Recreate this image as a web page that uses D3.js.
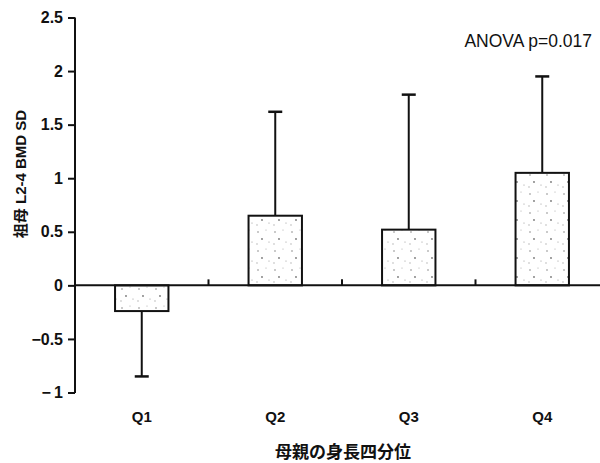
<!DOCTYPE html>
<html><head><meta charset="utf-8">
<script src="https://cdn.jsdelivr.net/npm/d3@7/dist/d3.min.js"></script>
<style>body{margin:0;background:#fff}svg{display:block}</style>
</head><body>
<svg id="c" width="600" height="463"></svg>
<script>
const categories = ["Q1","Q2","Q3","Q4"];
const means = [-0.24, 0.65, 0.52, 1.05];
const sds = [0.61, 0.97, 1.26, 0.90];
const errDir = [-1, 1, 1, 1];
const yTicks = [-1,-0.5,0,0.5,1,1.5,2,2.5];
const yTickLabels = ["\u2212\u20091","\u22120.5","0","0.5","1","1.5","2","2.5"];
const yTitle = "祖母 L2-4 BMD SD";
const xTitle = "母親の身長四分位";
const note = "ANOVA p=0.017";

const svg = d3.select("#c");
const font = "Liberation Sans, Arial, sans-serif";
const x = d3.scaleBand().domain(categories).range([75, 609]).paddingInner(0.6).paddingOuter(0.3);
const y = d3.scaleLinear().domain([-1, 2.5]).range([392.5, 17.5]);

// pattern
const defs = svg.append("defs");
const pat = defs.append("pattern").attr("id","dots").attr("patternUnits","userSpaceOnUse").attr("width",17).attr("height",19);
pat.append("rect").attr("width",17).attr("height",19).attr("fill","#fff");
[[3,4,0.8,"#888"],[11,2,0.6,"#aaa"],[7,11,0.9,"#777"],[14,14,0.6,"#999"],[2,16,0.7,"#aaa"]].forEach(d=>{
  pat.append("circle").attr("cx",d[0]).attr("cy",d[1]).attr("r",d[2]).attr("fill",d[3]);
});

// y axis
const yAxis = d3.axisLeft(y).tickValues(yTicks).tickFormat((d,i)=>yTickLabels[i]).tickSize(7).tickSizeOuter(0);
const gy = svg.append("g").attr("transform","translate(75,0)").call(yAxis);
gy.select(".domain").attr("stroke","#111").attr("stroke-width",2).attr("d","M0,17.5V393");
gy.selectAll(".tick line").attr("stroke","#111").attr("stroke-width",2);
gy.selectAll(".tick text").attr("font-family",font).attr("font-size",16).attr("font-weight","bold").attr("fill","#111").attr("x",-12);

// bars
svg.append("g").selectAll("rect").data(categories).join("rect")
  .attr("x", d=>x(d))
  .attr("width", x.bandwidth())
  .attr("y", (d,i)=>y(Math.max(0,means[i])))
  .attr("height", (d,i)=>Math.abs(y(means[i])-y(0)))
  .attr("fill","url(#dots)").attr("stroke","#111").attr("stroke-width",2);

// error bars
const eg = svg.append("g").attr("stroke","#111").attr("stroke-width",2);
categories.forEach((c,i)=>{
  const cx = x(c)+x.bandwidth()/2;
  const y0 = y(means[i]);
  const y1 = y(means[i]+errDir[i]*sds[i]);
  eg.append("line").attr("x1",cx).attr("x2",cx).attr("y1",y0).attr("y2",y1);
  eg.append("line").attr("x1",cx-7).attr("x2",cx+7).attr("y1",y1).attr("y2",y1).attr("stroke-width",2.5);
});

// x axis at zero
const step = x.step();
const bounds = categories.map(c=>x(c)+x.bandwidth()/2+step/2).slice(0,3);
svg.append("line").attr("x1",75).attr("x2",600).attr("y1",y(0)).attr("y2",y(0)).attr("stroke","#111").attr("stroke-width",2);
svg.append("g").selectAll("line").data(bounds).join("line")
  .attr("x1",d=>d).attr("x2",d=>d).attr("y1",y(0)).attr("y2",y(0)-6).attr("stroke","#111").attr("stroke-width",2);

// x labels
svg.append("g").selectAll("text").data(categories).join("text")
  .attr("x",d=>x(d)+x.bandwidth()/2).attr("y",422).attr("text-anchor","middle")
  .attr("font-family",font).attr("font-size",15).attr("font-weight","bold").attr("fill","#111").text(d=>d);

svg.append("text").attr("x",343).attr("y",458).attr("text-anchor","middle")
  .attr("font-family","Noto Sans CJK JP, sans-serif").attr("font-size",17).attr("font-weight","bold").attr("fill","#111").text(xTitle);

svg.append("text").attr("transform","translate(26,174) rotate(-90)").attr("text-anchor","middle")
  .attr("font-family","Liberation Sans, Noto Sans CJK JP, sans-serif").attr("font-size",15).attr("font-weight","bold").attr("fill","#111").text(yTitle);

svg.append("text").attr("x",592).attr("y",47).attr("text-anchor","end")
  .attr("font-family",font).attr("font-size",17.5).attr("fill","#111").text(note);
</script>
</body></html>
